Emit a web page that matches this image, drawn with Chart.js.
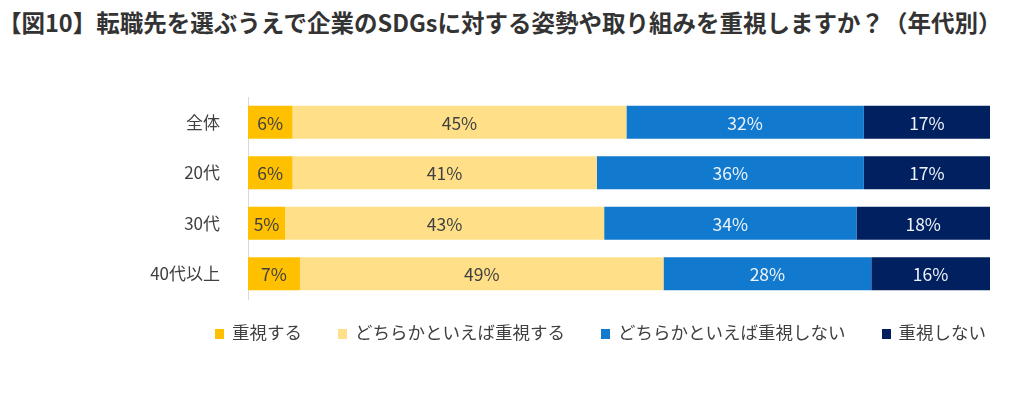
<!DOCTYPE html>
<html lang="ja">
<head>
<meta charset="utf-8">
<script src="https://cdn.jsdelivr.net/npm/chart.js@4"></script>
<style>
  body { margin: 0; background: #fff; }
  #wrap { position: relative; width: 1024px; height: 394px; overflow: hidden; font-family: "Noto Sans CJK JP", sans-serif; }
  #title { position: absolute; left: -2px; top: 7px; font-size: 23.5px; font-weight: bold; color: #333; line-height: 30px; white-space: nowrap; }
  #chart { position: absolute; left: 0; top: 0; }
  #legend { position: absolute; left: 215px; top: 320px; display: flex; gap: 36px; font-size: 17.5px; color: #404040; line-height: 24px; }
  .item { display: flex; align-items: flex-end; }
  .box { width: 9px; height: 10px; margin-right: 8px; margin-bottom: 5px; }
</style>
</head>
<body>
<div id="wrap">
  <div id="title">【図10】転職先を選ぶうえで企業のSDGsに対する姿勢や取り組みを重視しますか？（年代別）</div>
  <canvas id="chart" width="1024" height="394"></canvas>
  <div id="legend"></div>
</div>
<script>
// 年代別カテゴリ
const categories = ["全体", "20代", "30代", "40代以上"];

// 回答ごとの割合 (%)
const seriesLabels = ["重視する", "どちらかといえば重視する", "どちらかといえば重視しない", "重視しない"];
const juushi = [6, 6, 5, 7];
const dochiraJuushi = [45, 41, 43, 49];
const dochiraShinai = [32, 36, 34, 28];
const shinai = [17, 17, 18, 16];

const seriesColors = ["#FFC000", "#FFE089", "#127ACE", "#002060"];
const labelColors = ["#404040", "#404040", "#EEF3FA", "#EEF3FA"];

const seriesValues = [juushi, dochiraJuushi, dochiraShinai, shinai];

// 棒の中央に % を描く
const barLabels = {
  id: "barLabels",
  afterDatasetsDraw(chart) {
    const ctx = chart.ctx;
    ctx.save();
    ctx.font = '17.5px "Noto Sans CJK JP", sans-serif';
    ctx.textAlign = "center";
    ctx.textBaseline = "middle";
    chart.data.datasets.forEach((ds, i) => {
      const meta = chart.getDatasetMeta(i);
      meta.data.forEach((bar, j) => {
        const c = bar.getCenterPoint();
        ctx.fillStyle = labelColors[i];
        ctx.fillText(ds.data[j] + "%", c.x, c.y + 1);
      });
    });
    ctx.restore();
  }
};

new Chart(document.getElementById("chart"), {
  type: "bar",
  data: {
    labels: categories,
    datasets: seriesLabels.map((label, i) => ({
      label: label,
      data: seriesValues[i],
      backgroundColor: seriesColors[i],
      borderWidth: 0,
      categoryPercentage: 1,
      barPercentage: 0.655
    }))
  },
  options: {
    indexAxis: "y",
    responsive: false,
    animation: false,
    devicePixelRatio: 1,
    layout: { padding: { top: 97, bottom: 95, left: 0, right: 34 } },
    plugins: {
      legend: { display: false },
      tooltip: { enabled: false }
    },
    scales: {
      x: { stacked: true, min: 0, max: 100, display: false },
      y: {
        stacked: true,
        grid: { display: false },
        border: { display: true, color: "#D9D9D9", width: 1 },
        ticks: {
          padding: 20,
          color: "#404040",
          font: { family: "Noto Sans CJK JP", size: 17 }
        },
        afterFit: function (scale) { scale.width = 248; }
      }
    }
  },
  plugins: [barLabels]
});

// 凡例 (HTML)
const legendEl = document.getElementById("legend");
seriesLabels.forEach((label, i) => {
  const item = document.createElement("div");
  item.className = "item";
  item.innerHTML = `<span class="box" style="background:${seriesColors[i]}"></span><span>${label}</span>`;
  legendEl.appendChild(item);
});
</script>
</body>
</html>
